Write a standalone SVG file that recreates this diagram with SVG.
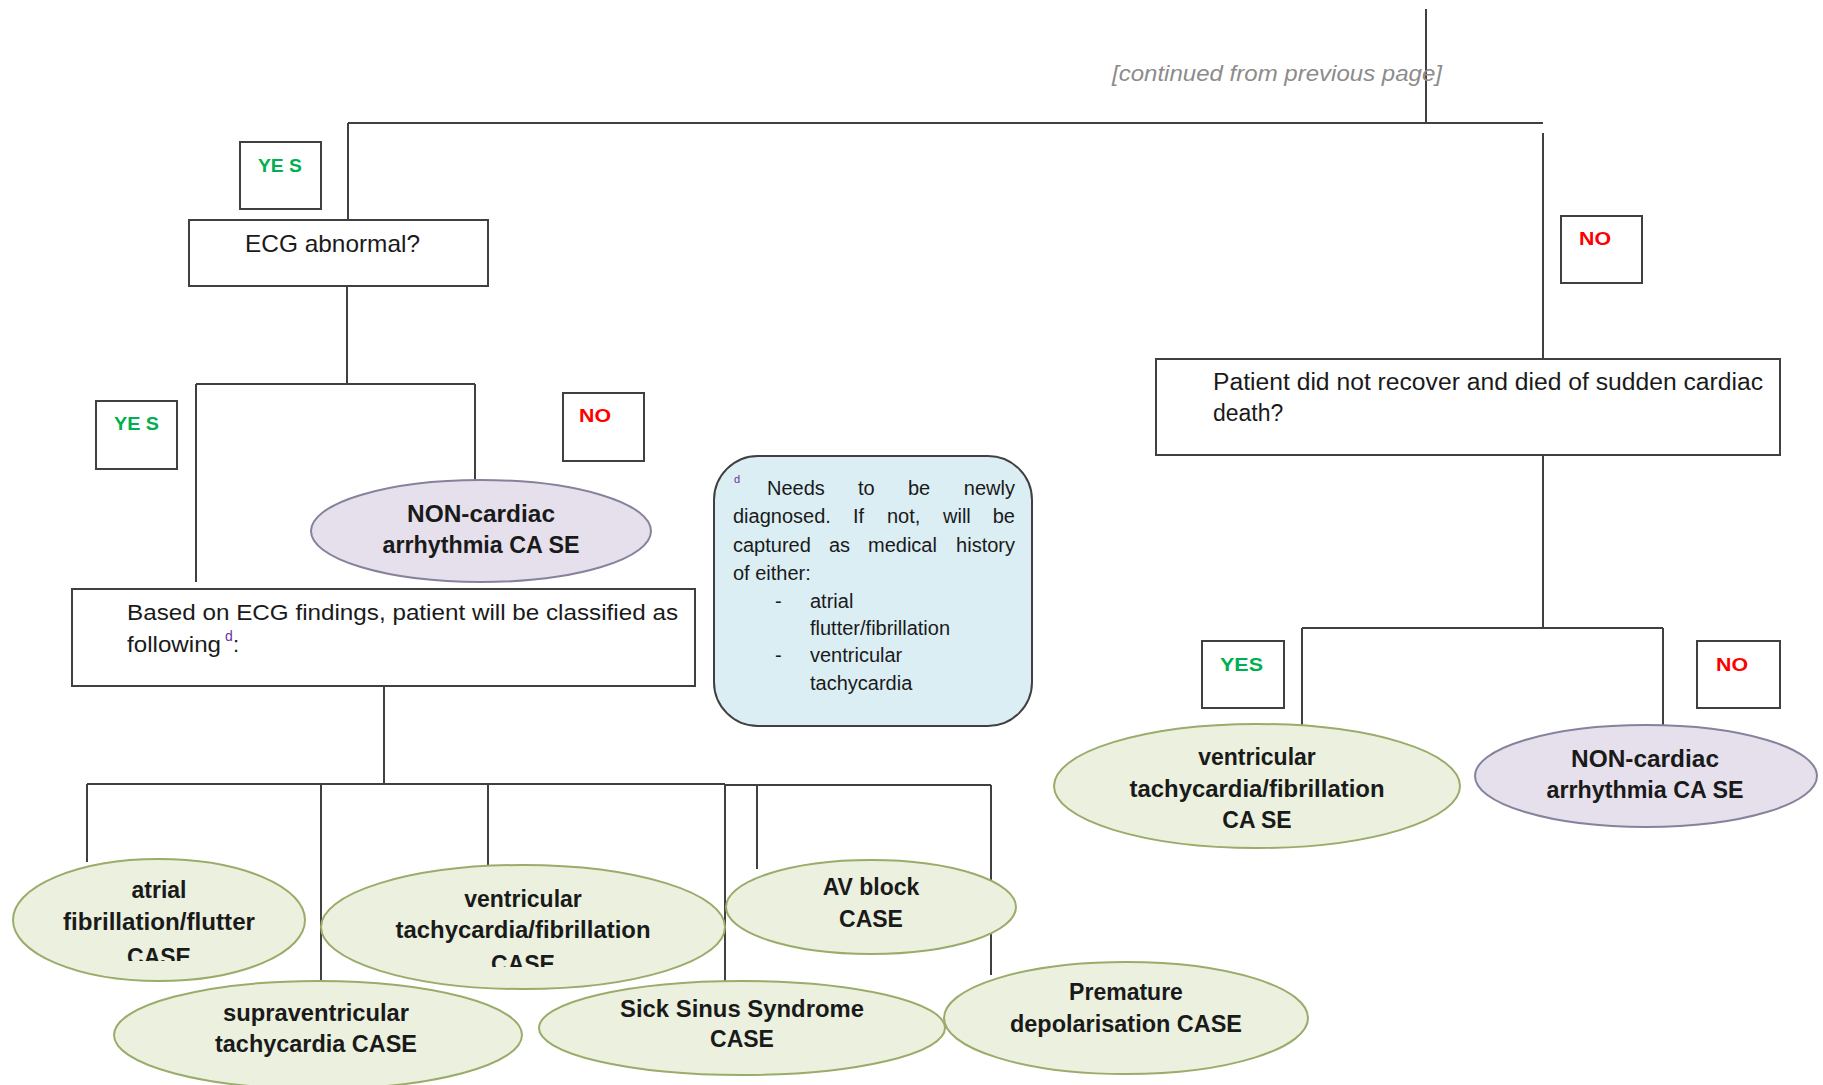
<svg xmlns="http://www.w3.org/2000/svg" width="1823" height="1085" viewBox="0 0 1823 1085">
<style>
.ln{fill:none;stroke:#404040;stroke-width:2}
.box{fill:#fff;stroke:#404040;stroke-width:2}
.grn{fill:#ebf1de;stroke:#9aab6a;stroke-width:2}
.lav{fill:#e5e0ec;stroke:#86829c;stroke-width:2}
.note{fill:#dbeef4;stroke:#404040;stroke-width:2}
text{font-family:"Liberation Sans",Arial,sans-serif;fill:#1a1a1a}
.yes{font-size:19px;font-weight:bold;fill:#00b050}
.no{font-size:19px;font-weight:bold;fill:#ff0000}
.q{font-size:22px}
.n{font-size:20px}
.b{font-size:23px;font-weight:bold;text-anchor:middle}
.sup{font-size:14px;fill:#7030a0}
.cont{font-size:22px;font-style:italic;fill:#8c8c8c}
</style>
<defs>
<clipPath id="clipA"><rect x="0" y="850" width="320" height="111"/></clipPath>
<clipPath id="clipV"><rect x="320" y="850" width="410" height="117"/></clipPath>
</defs>

<g id="connectors">
<path class="ln" d="M1426,9 V123"/>
<path class="ln" d="M348,123 H1543"/>
<path class="ln" d="M348,123 V220"/>
<path class="ln" d="M1543,133 V359"/>
<path class="ln" d="M347,286 V384"/>
<path class="ln" d="M196,384 H475"/>
<path class="ln" d="M196,384 V582"/>
<path class="ln" d="M475,384 V480"/>
<path class="ln" d="M384,686 V784"/>
<path class="ln" d="M87,784 H725"/>
<path class="ln" d="M725,785 H991"/>
<path class="ln" d="M87,784 V862"/>
<path class="ln" d="M321,784 V981"/>
<path class="ln" d="M488,784 V866"/>
<path class="ln" d="M725,784 V982"/>
<path class="ln" d="M757,786 V869"/>
<path class="ln" d="M991,785 V975"/>
<path class="ln" d="M1543,455 V628"/>
<path class="ln" d="M1302,628 H1663"/>
<path class="ln" d="M1302,628 V725"/>
<path class="ln" d="M1663,628 V725"/>
</g>

<g id="continued">
<text class="cont" x="1112" y="81" textLength="330" lengthAdjust="spacingAndGlyphs">[continued from previous page]</text>
</g>

<g id="yes1">
<rect class="box" x="240" y="142" width="81" height="67"/>
<text class="yes" x="258" y="172" textLength="44" lengthAdjust="spacingAndGlyphs">YE S</text>
</g>

<g id="ecg">
<rect class="box" x="189" y="220" width="299" height="66"/>
<text class="q" x="245" y="252" style="font-size:24px" textLength="175" lengthAdjust="spacingAndGlyphs">ECG abnormal?</text>
</g>

<g id="yes2">
<rect class="box" x="96" y="401" width="81" height="68"/>
<text class="yes" x="114" y="430" textLength="45" lengthAdjust="spacingAndGlyphs">YE S</text>
</g>

<g id="no1">
<rect class="box" x="563" y="393" width="81" height="68"/>
<text class="no" x="579" y="422" textLength="32" lengthAdjust="spacingAndGlyphs">NO</text>
</g>

<g id="noncardiac1">
<ellipse class="lav" cx="481" cy="531" rx="170" ry="51"/>
<text class="b" x="481" y="522" textLength="148" lengthAdjust="spacingAndGlyphs">NON-cardiac</text>
<text class="b" x="481" y="553" textLength="197" lengthAdjust="spacingAndGlyphs">arrhythmia CA SE</text>
</g>

<g id="based">
<rect class="box" x="72" y="589" width="623" height="97"/>
<text class="q" x="127" y="620" textLength="551" lengthAdjust="spacingAndGlyphs">Based on ECG findings, patient will be classified as</text>
<text class="q" x="127" y="652" textLength="94" lengthAdjust="spacingAndGlyphs">following</text>
<text class="sup" x="225" y="641">d</text>
<text class="q" x="233" y="652">:</text>
</g>

<g id="note">
<rect class="note" x="714" y="456" width="318" height="270" rx="44" ry="44"/>
<text class="sup" x="734" y="483" style="font-size:11px">d</text>
<text class="n" x="767" y="495">Needs</text>
<text class="n" x="858" y="495">to</text>
<text class="n" x="908" y="495">be</text>
<text class="n" x="1015" y="495" text-anchor="end">newly</text>
<text class="n" x="733" y="523">diagnosed.</text>
<text class="n" x="853" y="523">If</text>
<text class="n" x="887" y="523">not,</text>
<text class="n" x="943" y="523">will</text>
<text class="n" x="1015" y="523" text-anchor="end">be</text>
<text class="n" x="733" y="552">captured</text>
<text class="n" x="829" y="552">as</text>
<text class="n" x="868" y="552">medical</text>
<text class="n" x="1015" y="552" text-anchor="end">history</text>
<text class="n" x="733" y="580">of either:</text>
<text class="n" x="775" y="608">-</text>
<text class="n" x="810" y="608">atrial</text>
<text class="n" x="810" y="635">flutter/fibrillation</text>
<text class="n" x="775" y="662">-</text>
<text class="n" x="810" y="662">ventricular</text>
<text class="n" x="810" y="690">tachycardia</text>
</g>

<g id="atrial">
<ellipse class="grn" cx="159" cy="920" rx="146" ry="61"/>
<text class="b" x="159" y="898">atrial</text>
<text class="b" x="159" y="930" textLength="192" lengthAdjust="spacingAndGlyphs">fibrillation/flutter</text>
<text class="b" x="159" y="965" clip-path="url(#clipA)">CASE</text>
</g>

<g id="ventricular1">
<ellipse class="grn" cx="523" cy="927" rx="202" ry="62"/>
<text class="b" x="523" y="907">ventricular</text>
<text class="b" x="523" y="938" textLength="255" lengthAdjust="spacingAndGlyphs">tachycardia/fibrillation</text>
<text class="b" x="523" y="972" clip-path="url(#clipV)">CASE</text>
</g>

<g id="avblock">
<ellipse class="grn" cx="871" cy="907" rx="145" ry="47"/>
<text class="b" x="871" y="895">AV block</text>
<text class="b" x="871" y="927">CASE</text>
</g>

<g id="supraventricular">
<ellipse class="grn" cx="318" cy="1035" rx="204" ry="54"/>
<text class="b" x="316" y="1021" textLength="186" lengthAdjust="spacingAndGlyphs">supraventricular</text>
<text class="b" x="316" y="1052" textLength="202" lengthAdjust="spacingAndGlyphs">tachycardia CASE</text>
</g>

<g id="sicksinus">
<ellipse class="grn" cx="742" cy="1028" rx="203" ry="47"/>
<text class="b" x="742" y="1017" textLength="244" lengthAdjust="spacingAndGlyphs">Sick Sinus Syndrome</text>
<text class="b" x="742" y="1047">CASE</text>
</g>

<g id="premature">
<ellipse class="grn" cx="1126" cy="1018" rx="182" ry="56"/>
<text class="b" x="1126" y="1000">Premature</text>
<text class="b" x="1126" y="1032" textLength="232" lengthAdjust="spacingAndGlyphs">depolarisation CASE</text>
</g>

<g id="no2">
<rect class="box" x="1561" y="216" width="81" height="67"/>
<text class="no" x="1579" y="245" textLength="32" lengthAdjust="spacingAndGlyphs">NO</text>
</g>

<g id="patient">
<rect class="box" x="1156" y="359" width="624" height="96"/>
<text class="q" x="1213" y="390" style="font-size:23px" textLength="550" lengthAdjust="spacingAndGlyphs">Patient did not recover and died of sudden cardiac</text>
<text class="q" x="1213" y="421" style="font-size:23px">death?</text>
</g>

<g id="yes3">
<rect class="box" x="1202" y="641" width="82" height="67"/>
<text class="yes" x="1220" y="671" textLength="43" lengthAdjust="spacingAndGlyphs">YES</text>
</g>

<g id="no3">
<rect class="box" x="1697" y="641" width="83" height="67"/>
<text class="no" x="1716" y="671" textLength="32" lengthAdjust="spacingAndGlyphs">NO</text>
</g>

<g id="ventricular2">
<ellipse class="grn" cx="1257" cy="786" rx="203" ry="62"/>
<text class="b" x="1257" y="765">ventricular</text>
<text class="b" x="1257" y="797" textLength="255" lengthAdjust="spacingAndGlyphs">tachycardia/fibrillation</text>
<text class="b" x="1257" y="828">CA SE</text>
</g>

<g id="noncardiac2">
<ellipse class="lav" cx="1646" cy="776" rx="171" ry="51"/>
<text class="b" x="1645" y="767" textLength="148" lengthAdjust="spacingAndGlyphs">NON-cardiac</text>
<text class="b" x="1645" y="798" textLength="197" lengthAdjust="spacingAndGlyphs">arrhythmia CA SE</text>
</g>
</svg>
